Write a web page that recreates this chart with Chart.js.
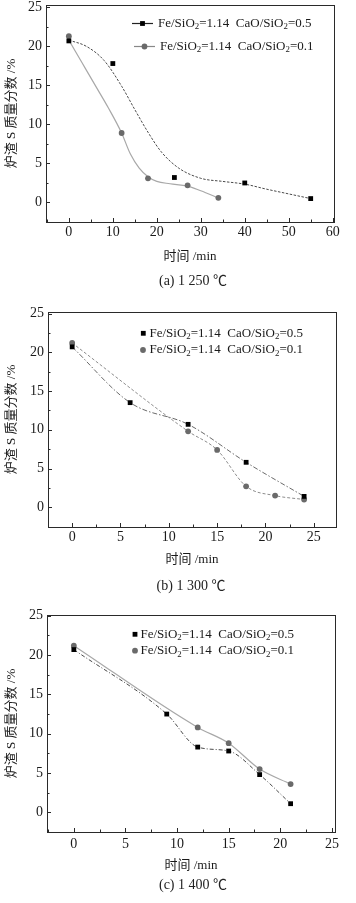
<!DOCTYPE html>
<html><head><meta charset="utf-8">
<script src="https://cdn.jsdelivr.net/npm/chart.js@4.4.1/dist/chart.umd.min.js"></script>
<style>
html,body{margin:0;padding:0;background:#fff;}
#wrap{position:relative;width:356px;height:903px;overflow:hidden;}
canvas{position:absolute;left:0;}
.cap{position:absolute;width:200px;text-align:center;font:14px "Liberation Serif","Noto Sans CJK SC",serif;color:#222;line-height:16px;}
</style></head><body>
<div id="wrap">
<canvas id="ca" width="356" height="300" style="top:0px"></canvas>
<canvas id="cb" width="356" height="300" style="top:300px"></canvas>
<canvas id="cc" width="356" height="303" style="top:600px"></canvas>
<div class="cap" style="left:93px;top:273px">(a) 1 250 ℃</div>
<div class="cap" style="left:91px;top:578px">(b) 1 300 ℃</div>
<div class="cap" style="left:93px;top:877px">(c) 1 400 ℃</div>
</div>
<script>
// ---- data ----
const seriesLabels = ['Fe/SiO₂=1.14  CaO/SiO₂=0.5', 'Fe/SiO₂=1.14  CaO/SiO₂=0.1'];
const xTitle = '时间 /min';
const yTitle = '炉渣 S 质量分数 /%';
const yTicks = [0, 5, 10, 15, 20, 25];
const xTicksA = [0, 10, 20, 30, 40, 50, 60];
const xTicksB = [0, 5, 10, 15, 20, 25];
const xTicksC = [0, 5, 10, 15, 20, 25];

// (a) 1250 C
const timeA1 = [0, 10, 24, 40, 55];
const sA1 = [20.7, 17.8, 3.2, 2.5, 0.5];
const timeA2 = [0, 12, 18, 27, 34];
const sA2 = [21.3, 8.9, 3.1, 2.2, 0.6];
// fitted curves
const fitTimeA1 = [0, 4, 8, 12, 15, 18, 21, 25, 30, 35, 40, 45, 50, 55];
const fitA1 = [20.8, 20.0, 18.2, 14.9, 11.9, 9.0, 6.5, 4.4, 3.1, 2.7, 2.35, 1.7, 1.1, 0.5];
const fitTimeA2 = [0, 3, 6, 9, 12, 14, 16, 18, 20, 23, 27, 30, 34];
const fitA2 = [20.8, 17.9, 15.0, 12.1, 8.9, 6.2, 4.4, 3.3, 2.7, 2.4, 2.1, 1.5, 0.6];

// (b) 1300 C
const timeB1 = [0, 6, 12, 18, 24];
const sB1 = [20.7, 13.5, 10.7, 5.8, 1.4];
const timeB2 = [0, 12, 15, 18, 21, 24];
const sB2 = [21.2, 9.8, 7.4, 2.7, 1.5, 1.0];

// (c) 1400 C
const timeC1 = [0, 9, 12, 15, 18, 21];
const sC1 = [20.7, 12.5, 8.3, 7.8, 4.8, 1.1];
const timeC2 = [0, 12, 15, 18, 21];
const sC2 = [21.2, 10.8, 8.8, 5.5, 3.6];

// ---- helpers ----
const FONT = '"Liberation Serif","Noto Sans CJK SC",serif';
const pts = (xs, ys) => xs.map((x, i) => ({x: x, y: ys[i]}));
const SQ = {pointStyle: 'rect', pointRadius: 3.4, backgroundColor: '#000', borderColor: '#000', pointBorderWidth: 0};
const CI = {pointStyle: 'circle', pointRadius: 2.9, backgroundColor: '#6a6a6a', borderColor: '#6a6a6a', pointBorderWidth: 0};

function markerDS(xs, ys, st) {
  return {data: pts(xs, ys), showLine: false, pointStyle: st.pointStyle, pointRadius: st.pointRadius,
    pointBackgroundColor: st.backgroundColor, pointBorderColor: st.borderColor, pointBorderWidth: 0, order: 0};
}
function lineDS(xs, ys, color, dash, width) {
  return {data: pts(xs, ys), showLine: true, pointRadius: 0, borderColor: color, borderWidth: width || 1,
    borderDash: dash, cubicInterpolationMode: 'monotone', fill: false, order: 1};
}

function drawSubText(ctx, text, x, y, size) {
  const parts = text.split('₂');
  ctx.textBaseline = 'middle'; ctx.textAlign = 'left'; ctx.fillStyle = '#1a1a1a';
  parts.forEach((p, i) => {
    ctx.font = size + 'px "Liberation Serif"';
    ctx.fillText(p, x, y); x += ctx.measureText(p).width;
    if (i < parts.length - 1) {
      ctx.font = (size * 0.68) + 'px "Liberation Serif"';
      ctx.fillText('2', x, y + size * 0.28); x += ctx.measureText('2').width;
    }
  });
}
function drawMarker(ctx, st, x, y) {
  ctx.fillStyle = st.backgroundColor;
  ctx.beginPath();
  if (st.pointStyle === 'rect') {
    const s = st.pointRadius * Math.SQRT1_2;
    ctx.rect(x - s, y - s, 2 * s, 2 * s);
  } else {
    ctx.arc(x, y, st.pointRadius, 0, Math.PI * 2);
  }
  ctx.fill();
}

function makeChart(id, p) {
  const canvas = document.getElementById(id);
  const H = canvas.height;
  const decor = {
    id: 'decor',
    afterDraw(chart) {
      const ctx = chart.ctx, a = chart.chartArea;
      const xs = chart.scales.x, ys = chart.scales.y;
      ctx.save();
      ctx.strokeStyle = '#2a2a2a'; ctx.lineWidth = 1; ctx.setLineDash([]);
      ctx.strokeRect(Math.round(a.left) + 0.5, Math.round(a.top) + 0.5, Math.round(a.right - a.left), Math.round(a.bottom - a.top));
      // inward tick marks
      const xt = p.xTicks, step = xt[1] - xt[0];
      ctx.beginPath();
      xt.forEach(v => {
        const px = Math.round(xs.getPixelForValue(v)) + 0.5;
        ctx.moveTo(px, a.bottom); ctx.lineTo(px, a.bottom - 4);
        const m = v + step / 2;
        if (m < xs.max) { const pm = Math.round(xs.getPixelForValue(m)) + 0.5; ctx.moveTo(pm, a.bottom); ctx.lineTo(pm, a.bottom - 2.5); }
        const m2 = v - step / 2;
        if (v === xt[0] && m2 > xs.min) { const pm = Math.round(xs.getPixelForValue(m2)) + 0.5; ctx.moveTo(pm, a.bottom); ctx.lineTo(pm, a.bottom - 2.5); }
      });
      yTicks.forEach(v => {
        const py = Math.round(ys.getPixelForValue(v)) + 0.5;
        ctx.moveTo(a.left, py); ctx.lineTo(a.left + 4, py);
        const m = v + 2.5;
        if (m < ys.max) { const pm = Math.round(ys.getPixelForValue(m)) + 0.5; ctx.moveTo(a.left, pm); ctx.lineTo(a.left + 2.5, pm); }
      });
      ctx.stroke();
      // legend
      p.legend.forEach(r => {
        if (r.line) {
          ctx.strokeStyle = r.lineColor; ctx.lineWidth = 1.2;
          ctx.beginPath(); ctx.moveTo(r.l0, r.y); ctx.lineTo(r.l1, r.y); ctx.stroke();
        }
        drawMarker(ctx, r.st, r.mx, r.y);
        drawSubText(ctx, r.text, r.tx, r.y, 13);
      });
      ctx.restore();
    }
  };
  return new Chart(canvas, {
    type: 'scatter',
    data: {datasets: p.datasets},
    options: {
      responsive: false, animation: false, devicePixelRatio: 1,
      layout: {padding: {left: 0, right: 356 - p.area.r, top: p.area.t, bottom: H - p.area.b - p.xAxisH}},
      plugins: {legend: {display: false}, tooltip: {enabled: false}},
      scales: {
        x: {
          type: 'linear', min: p.xMin, max: p.xMax,
          grid: {display: false, drawTicks: false}, border: {display: false},
          afterBuildTicks: s => { s.ticks = p.xTicks.map(v => ({value: v})); },
          afterFit: s => { s.height = p.xAxisH; s.paddingLeft = 0; s.paddingRight = 0; },
          ticks: {color: '#1a1a1a', font: {family: FONT, size: 14}, padding: p.xTickPad, maxRotation: 0, autoSkip: false},
          title: {display: true, text: xTitle, color: '#1a1a1a', font: {family: FONT, size: 13}, padding: 0}
        },
        y: {
          type: 'linear', min: p.yMin, max: p.yMax,
          grid: {display: false, drawTicks: false}, border: {display: false},
          afterBuildTicks: s => { s.ticks = yTicks.map(v => ({value: v})); },
          afterFit: s => { s.width = p.area.l; s.paddingTop = 0; s.paddingBottom = 0; },
          ticks: {color: '#1a1a1a', font: {family: FONT, size: 14}, padding: 4},
          title: {display: true, text: yTitle, color: '#1a1a1a', font: {family: FONT, size: 13}, padding: {top: 4, bottom: 0}}
        }
      }
    },
    plugins: [decor]
  });
}

// (a)
makeChart('ca', {
  area: {l: 46, r: 334, t: 5, b: 222}, xAxisH: 42, xTickPad: 2,
  xMin: -5.2, xMax: 60.3, yMin: -2.5, yMax: 25.3, xTicks: xTicksA,
  datasets: [
    lineDS(fitTimeA1, fitA1, '#4a4a4a', [2.5, 1.5], 1),
    lineDS(fitTimeA2, fitA2, '#a8a8a8', [], 1.2),
    markerDS(timeA1, sA1, SQ),
    markerDS(timeA2, sA2, CI)
  ],
  legend: [
    {line: true, lineColor: '#222', l0: 132, l1: 153, mx: 142.5, tx: 158, y: 23.5, st: SQ, text: seriesLabels[0]},
    {line: true, lineColor: '#888', l0: 134, l1: 155, mx: 144.5, tx: 160, y: 46.5, st: CI, text: seriesLabels[1]}
  ]
});
// (b)
makeChart('cb', {
  area: {l: 48, r: 336, t: 12, b: 227}, xAxisH: 40, xTickPad: 2,
  xMin: -2.5, xMax: 27.3, yMin: -2.55, yMax: 25.2, xTicks: xTicksB,
  datasets: [
    lineDS(timeB1, sB1, '#6a6a6a', [5, 2, 1.5, 2], 1),
    lineDS(timeB2, sB2, '#8c8c8c', [3, 2], 1),
    markerDS(timeB1, sB1, SQ),
    markerDS(timeB2, sB2, CI)
  ],
  legend: [
    {line: false, mx: 143.3, tx: 149.5, y: 33.3, st: SQ, text: seriesLabels[0]},
    {line: false, mx: 143, tx: 149.5, y: 50, st: CI, text: seriesLabels[1]}
  ]
});
// (c)
makeChart('cc', {
  area: {l: 47, r: 335, t: 15, b: 232}, xAxisH: 41, xTickPad: 4,
  xMin: -2.6, xMax: 25.3, yMin: -2.5, yMax: 25.1, xTicks: xTicksC,
  datasets: [
    lineDS(timeC1, sC1, '#4a4a4a', [4, 2, 1, 2], 1),
    lineDS(timeC2, sC2, '#a8a8a8', [], 1.2),
    markerDS(timeC1, sC1, SQ),
    markerDS(timeC2, sC2, CI)
  ],
  legend: [
    {line: false, mx: 135, tx: 140.5, y: 34.3, st: SQ, text: seriesLabels[0]},
    {line: false, mx: 135, tx: 140.5, y: 50.7, st: CI, text: seriesLabels[1]}
  ]
});
</script>
</body></html>
